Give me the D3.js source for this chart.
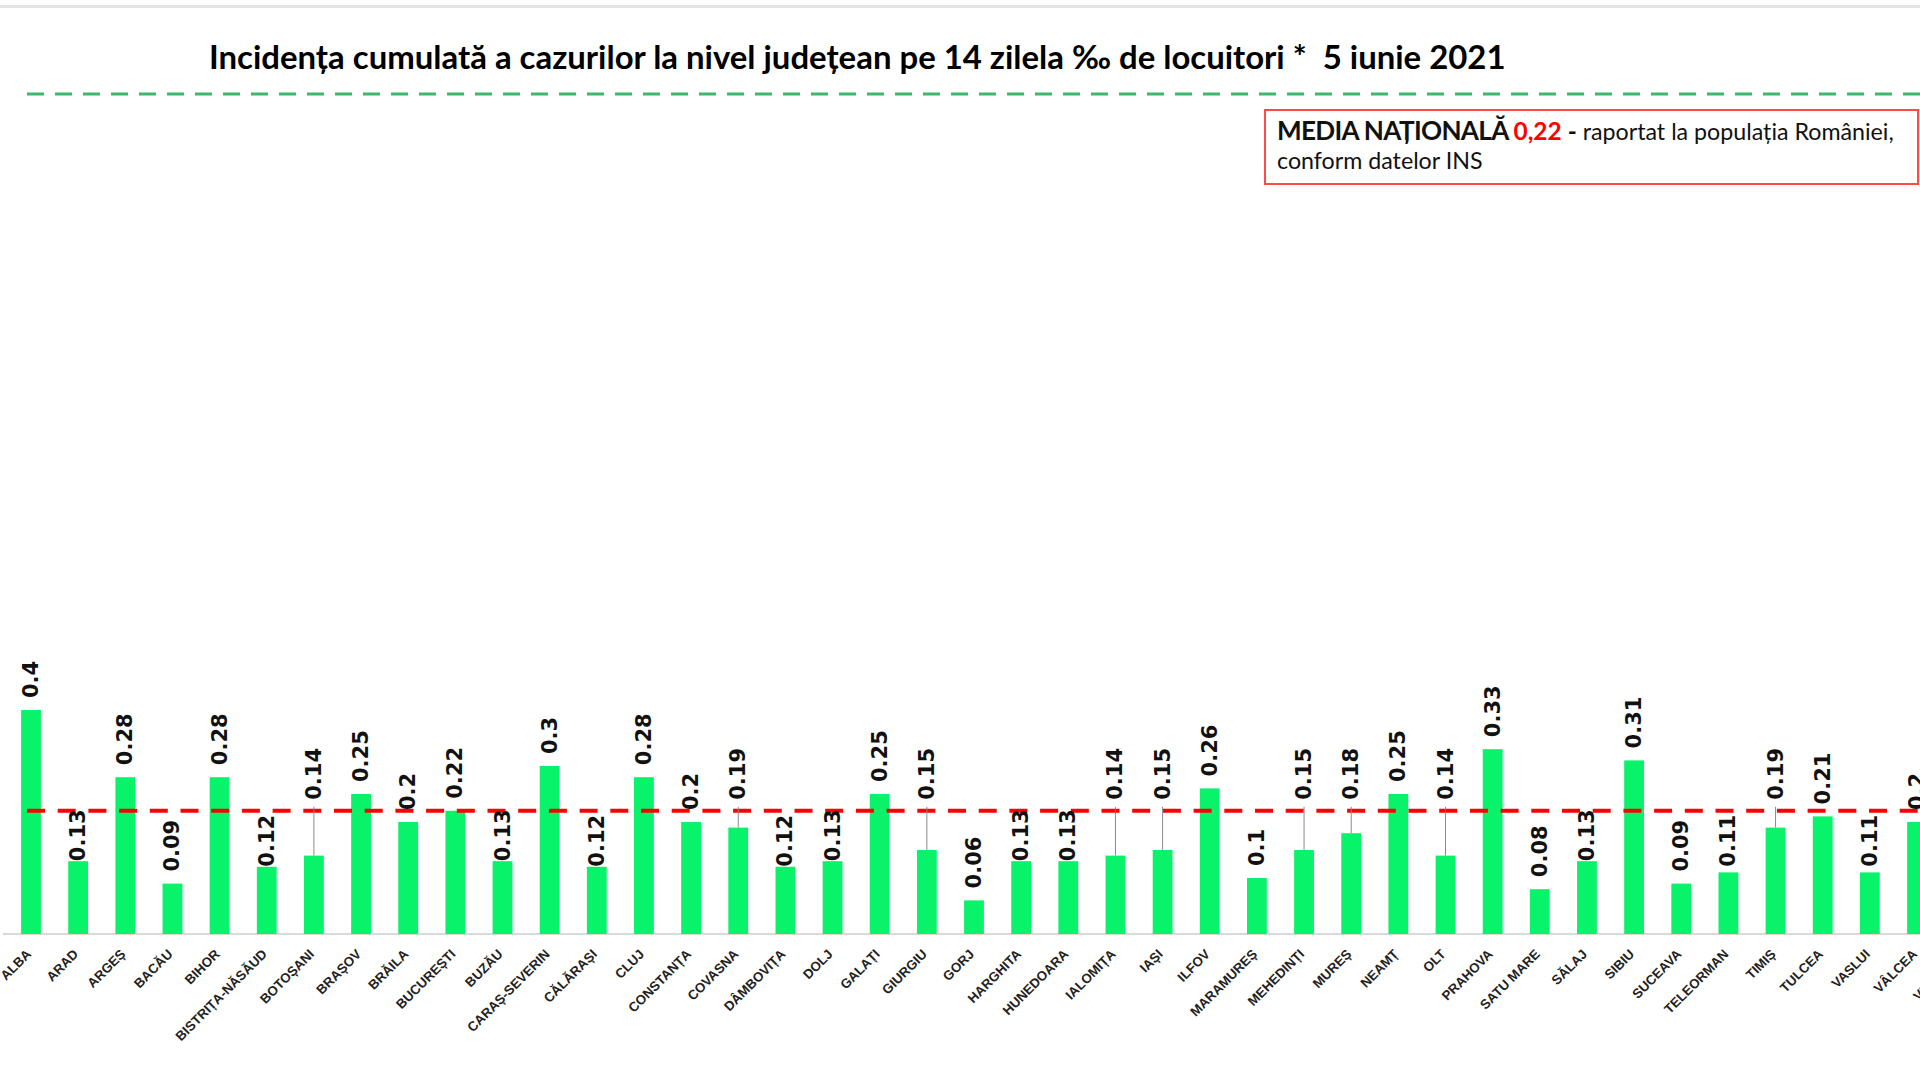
<!DOCTYPE html>
<html><head><meta charset="utf-8">
<script src="https://cdn.jsdelivr.net/npm/d3@7"></script>
<style>
html,body{margin:0;padding:0;background:#fff;overflow:hidden;}
svg{display:block;}
</style></head><body>
<svg id="chart" width="1920" height="1080"></svg>
<script>
// ---- data ----
const counties = ["ALBA","ARAD","ARGEȘ","BACĂU","BIHOR","BISTRIȚA-NĂSĂUD","BOTOȘANI","BRAȘOV","BRĂILA","BUCUREȘTI","BUZĂU","CARAȘ-SEVERIN","CĂLĂRAȘI","CLUJ","CONSTANȚA","COVASNA","DÂMBOVIȚA","DOLJ","GALAȚI","GIURGIU","GORJ","HARGHITA","HUNEDOARA","IALOMIȚA","IAȘI","ILFOV","MARAMUREȘ","MEHEDINȚI","MUREȘ","NEAMȚ","OLT","PRAHOVA","SATU MARE","SĂLAJ","SIBIU","SUCEAVA","TELEORMAN","TIMIȘ","TULCEA","VASLUI","VÂLCEA","VRANCEA"];
const values = [0.4,0.13,0.28,0.09,0.28,0.12,0.14,0.25,0.2,0.22,0.13,0.3,0.12,0.28,0.2,0.19,0.12,0.13,0.25,0.15,0.06,0.13,0.13,0.14,0.15,0.26,0.1,0.15,0.18,0.25,0.14,0.33,0.08,0.13,0.31,0.09,0.11,0.19,0.21,0.11,0.2,0.1];
const nationalAverage = 0.22;
const titleText = "Incidența cumulată a cazurilor la nivel județean pe 14 zilela ‰ de locuitori *  5 iunie 2021";
const noteBold = "MEDIA NAȚIONALĂ ";
const noteValue = "0,22";
const noteDash = " - ";
const noteRest = "raportat la populația României,";
const noteLine2 = "conform datelor INS";

// ---- layout ----
const W = 1920, H = 1080;
const svg = d3.select("#chart");
const baseY = 934, step = 47.15, firstCenter = 31;
const x = d3.scaleBand().domain(counties)
  .range([firstCenter - step/2, firstCenter - step/2 + counties.length*step])
  .paddingInner(0.58).paddingOuter(0.29);
const y = d3.scaleLinear().domain([0, 0.4]).range([baseY, 710]);
const redY = y(nationalAverage);
const data = counties.map((c,i)=>({c, v: values[i]}));

// top grey rule
svg.append("rect").attr("x",0).attr("y",5).attr("width",W).attr("height",3).attr("fill","#e4e4e4");

// title
const title = svg.append("text").attr("x",209).attr("y",69)
  .attr("font-family","Lato, 'Open Sans', sans-serif").attr("font-weight","bold")
  .attr("font-size",30).attr("fill","#000").style("white-space","pre").text(titleText);
const tw = title.node().getComputedTextLength();
title.attr("font-size", 30*1297/tw);

// green dashed line
svg.append("line").attr("x1",27).attr("x2",W).attr("y1",94).attr("y2",94)
  .attr("stroke","#3cb86a").attr("stroke-width",3).attr("stroke-dasharray","17,11");

// note box
svg.append("rect").attr("x",1265).attr("y",110).attr("width",653).attr("height",74)
  .attr("fill","#fff").attr("stroke","#ff4a4a").attr("stroke-width",2);
const n1 = svg.append("text").attr("x",1277).attr("y",140)
  .attr("font-family","Lato, sans-serif").attr("fill","#111").style("white-space","pre");
const sB = n1.append("tspan").attr("font-weight","bold").attr("letter-spacing","-0.7").text(noteBold);
const sV = n1.append("tspan").attr("font-weight","bold").attr("fill","#ff0000").text(noteValue);
const sD = n1.append("tspan").attr("font-weight","bold").text(noteDash);
const sR = n1.append("tspan").text(noteRest);
function setNote(s){
  sB.attr("font-size", 1.07*s); sV.attr("font-size", 1.0*s); sD.attr("font-size", 1.0*s); sR.attr("font-size", 0.95*s);
}
setNote(21);
const nw = n1.node().getComputedTextLength();
const s = 21*615/nw;
setNote(s);
svg.append("text").attr("x",1277).attr("y",169)
  .attr("font-family","Lato, sans-serif").attr("font-size",0.95*s).attr("fill","#111").text(noteLine2);

// baseline
svg.append("line").attr("x1",3).attr("x2",W).attr("y1",baseY).attr("y2",baseY)
  .attr("stroke","#d9d9d9").attr("stroke-width",2);

// bars
svg.append("g").selectAll("rect").data(data).join("rect")
  .attr("x", d=>x(d.c)).attr("width", x.bandwidth())
  .attr("y", d=>y(d.v)).attr("height", d=>baseY - y(d.v))
  .attr("fill","#08f26a");

// red average line
svg.append("line").attr("x1",27).attr("x2",W).attr("y1",redY).attr("y2",redY)
  .attr("stroke","#ff0000").attr("stroke-width",4).attr("stroke-dasharray","18,12.7");

// x axis labels
const axis = svg.append("g").attr("transform",`translate(0,${baseY})`)
  .call(d3.axisBottom(x).tickSize(0).tickPadding(0));
axis.select(".domain").remove();
axis.selectAll("text")
  .attr("x",null).attr("y",null).attr("dy",null)
  .attr("transform","translate(1,21) rotate(-45)")
  .style("text-anchor","end")
  .attr("font-family","'Liberation Sans Narrow', 'Liberation Sans', sans-serif")
  .attr("font-weight","bold").attr("font-size",13.3).attr("fill","#222");

// value labels
const lbl = svg.append("g");
const fmt = d => String(d);
data.forEach(d => {
  const cx = x(d.c) + x.bandwidth()/2;
  const t = lbl.append("text").attr("font-family","'DejaVu Sans', sans-serif")
    .attr("font-weight","bold").attr("font-size",21).attr("fill","#111")
    .attr("dominant-baseline","central").attr("text-anchor","start").text(fmt(d.v));
  const L = t.node().getComputedTextLength();
  const top = y(d.v);
  let bottom = top - 12, leader = false;
  if (bottom > redY + 1 && bottom - L < redY - 1) {
    if (top - redY >= 0.92*L) {
      bottom = Math.min(top, redY + 4 + L);
    } else {
      bottom = redY - 11; leader = true;
    }
  }
  t.attr("transform",`translate(${cx},${bottom}) rotate(-90)`);
  if (leader) {
    lbl.append("line").attr("x1",cx).attr("x2",cx).attr("y1",bottom+7).attr("y2",top)
      .attr("stroke","#8a8a8a").attr("stroke-width",1);
  }
});
</script>
</body></html>
